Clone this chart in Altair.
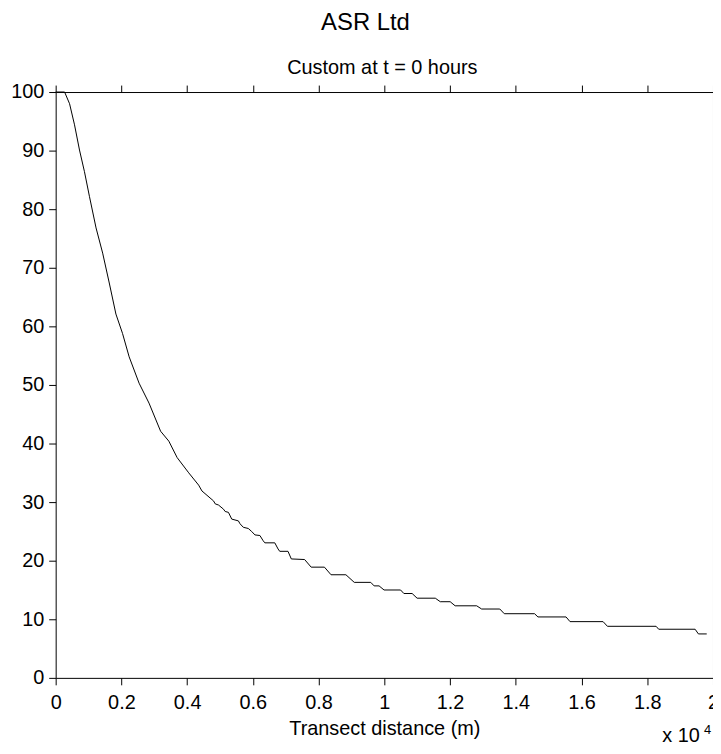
import altair as alt
import pandas as pd

# Transect distance (m) and value along the curve
dist = [0, 272, 423, 574, 725, 876, 1027, 1229, 1430, 1631, 1833, 2034, 2236, 2538, 2840,
        3193, 3444, 3696, 4048, 4350, 4451, 4804, 4855, 4955, 5106, 5157, 5257, 5357, 5559,
        5610, 5710, 5861, 5961, 6063, 6214, 6314, 6365, 6667, 6767, 6818, 7069, 7170, 7574,
        7774, 8178, 8378, 8831, 9085, 9587, 9689, 9840, 9991, 10494, 10595, 10846, 10997,
        11551, 11702, 12003, 12154, 12810, 12961, 13514, 13650, 14571, 14674, 15529, 15650,
        16656, 16788, 18269, 18348, 19456, 19556, 19809]
value = [100, 100, 98, 94.4, 90.1, 86.4, 82.2, 76.8, 72.5, 67.4, 62.1, 58.8, 54.8, 50.3, 46.9,
         42.1, 40.4, 37.6, 35.0, 32.9, 31.9, 30.2, 29.7, 29.5, 28.8, 28.4, 28.25, 27.1, 26.8,
         26.3, 25.7, 25.5, 25.0, 24.4, 24.3, 23.4, 23.05, 23.05, 22.0, 21.6, 21.6, 20.3, 20.2,
         18.9, 18.9, 17.6, 17.6, 16.3, 16.3, 15.7, 15.7, 15.0, 15.0, 14.4, 14.4, 13.6,
         13.6, 13.0, 13.0, 12.3, 12.3, 11.75, 11.75, 10.95, 10.95, 10.4, 10.4, 9.6,
         9.6, 8.8, 8.8, 8.3, 8.3, 7.5, 7.5]

x_ticks = [0, 2000, 4000, 6000, 8000, 10000, 12000, 14000, 16000, 18000, 20000]
y_ticks = [0, 10, 20, 30, 40, 50, 60, 70, 80, 90, 100]

fig_title = "ASR Ltd"
axes_title = "Custom at t = 0 hours"
x_title = "Transect distance (m)"
exp_base = "x 10"
exp_pow = "4"

FONT = "Liberation Sans"

df = pd.DataFrame({"x": dist, "y": value})

xscale = alt.Scale(domain=[0, 20000], nice=False, zero=False)
yscale = alt.Scale(domain=[0, 100], nice=False, zero=False)

line = alt.Chart(df).mark_line(color="black", strokeWidth=1).encode(
    x=alt.X("x:Q", scale=xscale,
            axis=alt.Axis(orient="bottom", values=x_ticks, title=x_title,
                          labelExpr="format(datum.value / 10000, '~g')",
                          tickSize=7, labelPadding=8, titlePadding=6,
                          labelFlush=False, labelOverlap=False)),
    y=alt.Y("y:Q", scale=yscale,
            axis=alt.Axis(orient="left", values=y_ticks, title=None,
                          tickSize=7, labelPadding=5, labelOverlap=False)),
)

frame = alt.Chart(df).mark_line(opacity=0).encode(
    x=alt.X("x:Q", scale=xscale,
            axis=alt.Axis(orient="top", values=x_ticks, labels=False, title=None, tickSize=7)),
    y=alt.Y("y:Q", scale=yscale,
            axis=alt.Axis(orient="right", values=y_ticks, labels=False, title=None, tickSize=7)),
)

t_sub = alt.Chart(pd.DataFrame({"t": [axes_title]})).mark_text(
    font=FONT, fontSize=20, color="black", align="center", baseline="alphabetic"
).encode(x=alt.value(329), y=alt.value(-18), text="t:N")

t2 = alt.Chart(pd.DataFrame({"t": [exp_base]})).mark_text(
    font=FONT, fontSize=20, color="black", align="left", baseline="alphabetic"
).encode(x=alt.value(611), y=alt.value(655), text="t:N")

t3 = alt.Chart(pd.DataFrame({"t": [exp_pow]})).mark_text(
    font=FONT, fontSize=13, color="black", align="left", baseline="alphabetic"
).encode(x=alt.value(653), y=alt.value(647), text="t:N")

chart = alt.layer(line, frame, t_sub, t2, t3).resolve_axis(
    x="independent", y="independent"
).properties(
    width=662, height=590,
    background="white",
    autosize=alt.AutoSizeParams(type="none"),
    padding={"left": 48, "top": 82, "right": 0, "bottom": 66},
    title=alt.TitleParams(text=fig_title, font=FONT, fontSize=24, fontWeight="normal",
                          color="black", anchor="middle", frame="group",
                          offset=23, dx=-19),
).configure_axis(
    labelFont=FONT, titleFont=FONT, labelFontSize=20, titleFontSize=20,
    labelColor="black", titleColor="black", titleFontWeight="normal",
    tickColor="black", domainColor="black", domainWidth=1, tickWidth=1, grid=False,
).configure_view(stroke=None)

chart.save("out.html", embed_options={"renderer": "svg", "actions": False})
